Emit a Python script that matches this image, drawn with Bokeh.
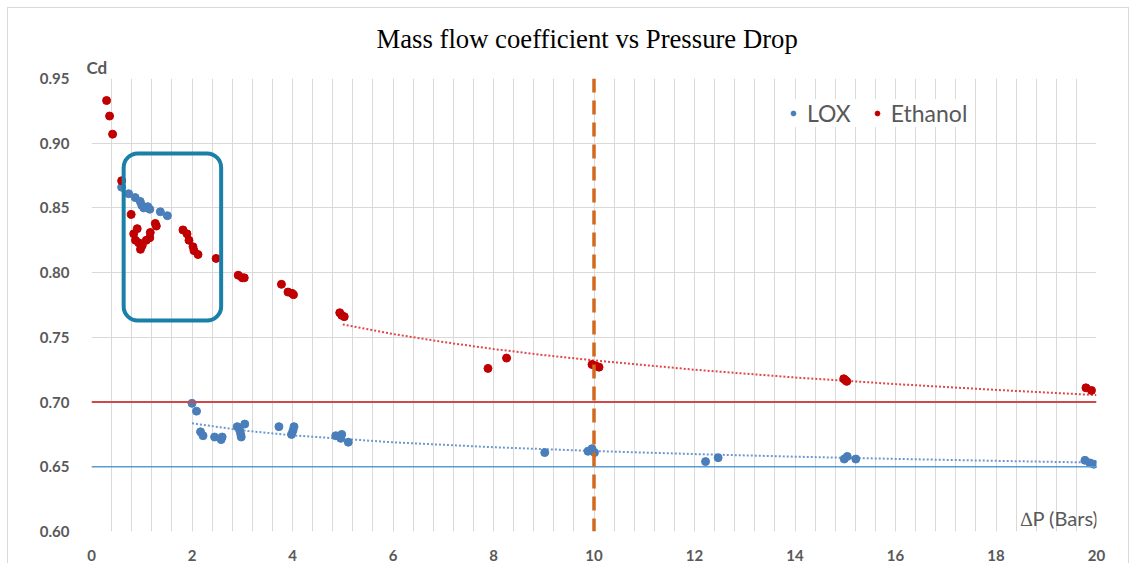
from bokeh.plotting import figure
from bokeh.models import (Range1d, FixedTicker, Span, BoxAnnotation, Label, Legend, LegendItem, Title)
from bokeh.embed import file_html
from bokeh.resources import INLINE

# ---------------- data ----------------
lox_x = [0.60, 0.74, 0.87, 0.97, 1.00, 1.04, 1.12, 1.16, 1.37, 1.51,
         2.00, 2.09, 2.17, 2.22, 2.45, 2.58, 2.60, 2.90, 2.95, 2.97, 2.98, 3.05,
         3.73, 4.03, 4.01, 3.98, 4.86, 4.98, 4.96, 5.11,
         9.02, 9.88, 9.96, 10.01, 12.22, 12.47, 14.98, 15.04, 15.21,
         19.77, 19.87, 19.95]
lox_y = [0.866, 0.861, 0.858, 0.855, 0.852, 0.850, 0.851, 0.849, 0.847, 0.844,
         0.699, 0.693, 0.677, 0.674, 0.673, 0.671, 0.673, 0.681, 0.678, 0.675, 0.673, 0.683,
         0.681, 0.681, 0.678, 0.675, 0.674, 0.675, 0.672, 0.669,
         0.661, 0.662, 0.664, 0.661, 0.654, 0.657, 0.656, 0.658, 0.656,
         0.655, 0.653, 0.652]

eth_x = [0.30, 0.36, 0.42, 0.60, 0.79, 0.84, 0.91, 0.875, 0.94, 0.975, 1.01, 1.09,
         1.16, 1.17, 1.27, 1.29,
         1.82, 1.90, 1.94, 2.02, 2.04, 2.12, 2.48, 2.92, 3.00, 3.04, 3.78, 3.91, 3.99, 4.02,
         4.94, 4.98, 5.03, 7.89, 8.26, 9.96, 10.03, 10.10, 14.97, 15.00, 15.03, 19.79, 19.90]
eth_y = [0.933, 0.921, 0.907, 0.871, 0.845, 0.830, 0.834, 0.825, 0.823, 0.818, 0.821, 0.825,
         0.827, 0.831, 0.838, 0.836,
         0.833, 0.830, 0.825, 0.820, 0.817, 0.814, 0.811, 0.798, 0.796, 0.796, 0.791, 0.785, 0.784, 0.783,
         0.769, 0.767, 0.766, 0.726, 0.734, 0.729, 0.728, 0.727, 0.718, 0.717, 0.716, 0.711, 0.709]

# trend lines
eth_trend_x = [5, 6, 7, 8, 9, 10, 12, 14, 16, 18, 20]
eth_trend_y = [0.7600, 0.7526, 0.7464, 0.7410, 0.7363, 0.7322, 0.7250, 0.7190, 0.7139, 0.7094, 0.7054]
lox_trend_x = [2, 3, 4, 6, 8, 10, 12, 14, 16, 18, 20]
lox_trend_y = [0.6836, 0.6781, 0.6743, 0.6689, 0.6651, 0.6622, 0.6598, 0.6578, 0.6561, 0.6546, 0.6532]

ref_eth = 0.70
ref_lox = 0.65
ref_dp = 10
box_x = [0.64, 2.58]
box_y = [0.763, 0.892]

x_ticks = [0, 2, 4, 6, 8, 10, 12, 14, 16, 18, 20]
x_minor = [round(i * 0.4, 1) for i in range(51)]
y_ticks = [0.60, 0.65, 0.70, 0.75, 0.80, 0.85, 0.90, 0.95]

GRAY = "#595959"
GRID = "#D9D9D9"

p = figure(width=1122, height=556, output_backend="svg", toolbar_location=None,
           x_range=Range1d(0, 20), y_range=Range1d(0.60, 0.95),
           min_border_left=83, min_border_right=34, min_border_top=70, min_border_bottom=33)
p.styles = {"margin-left": "7px", "margin-top": "7px",
            "border-left": "1px solid #D9D9D9", "border-top": "1px solid #D9D9D9",
            "border-right": "1px solid #D9D9D9"}
p.outline_line_color = None
p.background_fill_color = "white"
p.border_fill_color = "white"

p.title.text = "Mass flow coefficient vs Pressure Drop"
p.title.text_font = "Liberation Serif"
p.title.text_font_size = "26.7px"
p.title.text_font_style = "normal"
p.title.text_color = "black"
p.title.align = "left"
p.title.offset = 285
p.title.standoff = 0

cd_title = Title(text="Cd", align="left", offset=-5, standoff=2, text_font="Lato",
                 text_font_style="bold", text_font_size="17px", text_color=GRAY)
p.add_layout(cd_title, "above")

p.xaxis.ticker = FixedTicker(ticks=x_ticks, minor_ticks=x_minor)
p.yaxis.ticker = FixedTicker(ticks=y_ticks)
p.yaxis.major_label_overrides = {t: f"{t:.2f}" for t in y_ticks}
for ax in (p.xaxis[0], p.yaxis[0]):
    ax.axis_line_color = None
    ax.major_tick_line_color = None
    ax.minor_tick_line_color = None
    ax.major_label_text_font = "Lato"
    ax.major_label_text_font_style = "bold"
    ax.major_label_text_font_size = "15px"
    ax.major_label_text_color = GRAY
p.xaxis.major_label_standoff = 12
p.yaxis.major_label_standoff = 16

p.xgrid.grid_line_color = GRID
p.xgrid.minor_grid_line_color = GRID
p.ygrid.grid_line_color = GRID

# reference lines
p.add_layout(Span(location=ref_eth, dimension="width", line_color="#D04848", line_width=2))
p.add_layout(Span(location=ref_lox, dimension="width", line_color="#5B9BD5", line_width=1.5))

# trend lines
p.line(eth_trend_x, eth_trend_y, line_color="#E04848", line_width=2, line_dash="2 2")
p.line(lox_trend_x, lox_trend_y, line_color="#6C98D0", line_width=2, line_dash="2 2")

# points
r_lox = p.scatter(lox_x, lox_y, size=8, fill_color="#4A7EBB", line_color="#4A7EBB")
r_eth = p.scatter(eth_x, eth_y, size=8, fill_color="#C00000", line_color="#C00000")

# vertical dashed line
p.add_layout(Span(location=ref_dp, dimension="height", line_color="#D2691E",
                  line_width=3.5, line_dash="14 8"))

# highlight box
p.add_layout(BoxAnnotation(left=box_x[0], right=box_x[1], bottom=box_y[0], top=box_y[1],
                           fill_alpha=0, line_color="#1B80A8", line_alpha=1.0,
                           line_width=4, border_radius=14))

p.add_layout(Label(x=20, y=0.60, x_offset=2, y_offset=2, text="\u2206P (Bars)", text_font="Lato",
                   text_font_size="20px", text_color=GRAY,
                   text_align="right", text_baseline="bottom"))

legend = Legend(items=[LegendItem(label="LOX", renderers=[r_lox]),
                       LegendItem(label="Ethanol", renderers=[r_eth])],
                orientation="horizontal", location=(696, 404),
                label_text_font="Lato", label_text_font_size="23px", label_text_color=GRAY,
                glyph_width=12, glyph_height=12, label_standoff=8, spacing=20,
                padding=10, margin=0, border_line_color=None,
                background_fill_color="white", background_fill_alpha=1.0)
p.add_layout(legend)

open("out.html", "w").write(file_html(p, INLINE))
